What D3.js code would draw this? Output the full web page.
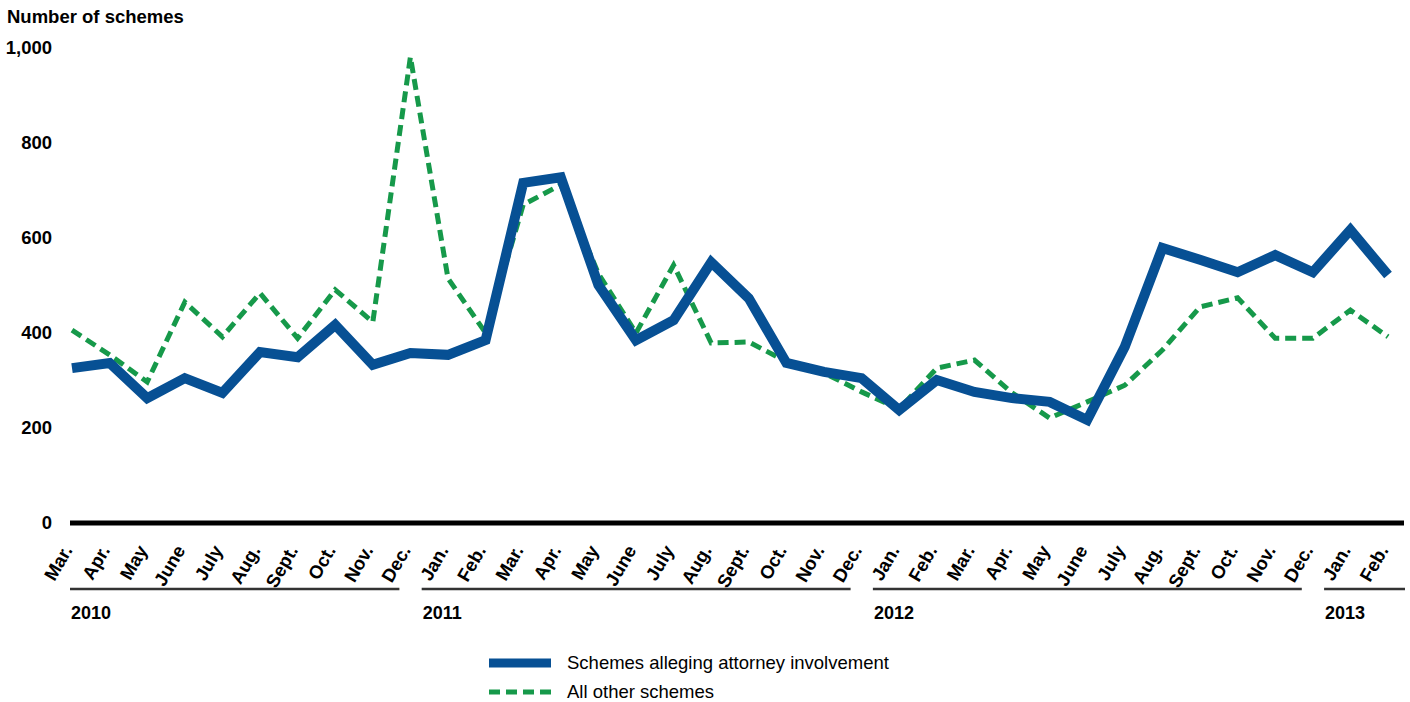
<!DOCTYPE html>
<html>
<head>
<meta charset="utf-8">
<script src="https://cdn.jsdelivr.net/npm/d3@7"></script>
<style>
  body { margin: 0; background: #fff; }
  svg text { font-family: "Liberation Sans", Arial, sans-serif; fill: #000; }
</style>
</head>
<body>
<svg id="chart" width="1410" height="702"></svg>
<script>
'use strict';

// months from Mar. 2010 to Feb. 2013
const months = [
  'Mar.', 'Apr.', 'May', 'June', 'July', 'Aug.', 'Sept.', 'Oct.', 'Nov.', 'Dec.',
  'Jan.', 'Feb.', 'Mar.', 'Apr.', 'May', 'June', 'July', 'Aug.', 'Sept.', 'Oct.', 'Nov.', 'Dec.',
  'Jan.', 'Feb.', 'Mar.', 'Apr.', 'May', 'June', 'July', 'Aug.', 'Sept.', 'Oct.', 'Nov.', 'Dec.',
  'Jan.', 'Feb.',
];
const years = [
  { label: '2010', first: 0, last: 9 },
  { label: '2011', first: 10, last: 21 },
  { label: '2012', first: 22, last: 33 },
  { label: '2013', first: 34, last: 35 },
];
const attorneySchemes = [
  326, 337, 263, 305, 274, 360, 349, 417, 333, 358,
  354, 385, 716, 728, 501, 385, 427, 549, 473, 337, 318, 305,
  238, 301, 276, 263, 255, 217, 371, 579, 554, 528, 564, 528,
  617, 522,
];
const otherSchemes = [
  406, 354, 297, 465, 392, 484, 389, 491, 423, 981,
  515, 400, 670, 712, 525, 400, 543, 379, 381, 340, 316, 276,
  240, 326, 343, 274, 221, 255, 290, 364, 455, 474, 389, 389,
  448, 392,
];
const yTicks = [0, 200, 400, 600, 800, 1000];

const FONT = '"Liberation Sans", Arial, sans-serif';
const svg = d3.select('#chart');
const idx = d3.range(months.length);

const x = d3.scalePoint()
  .domain(idx)
  .range([72, 1388]);
const y = d3.scaleLinear()
  .domain([0, 1000])
  .range([523, 48]);

// title
svg.append('text')
  .attr('x', 7)
  .attr('y', 23)
  .attr('font-size', 18.5)
  .attr('font-weight', 'bold')
  .text('Number of schemes');

// y axis labels only
const yAxis = d3.axisLeft(y)
  .tickValues(yTicks)
  .tickFormat(d3.format(','))
  .tickSize(0)
  .tickPadding(0);
const yG = svg.append('g')
  .attr('transform', 'translate(52,0)')
  .call(yAxis);
yG.select('.domain').remove();
yG.selectAll('text')
  .attr('font-size', 18.5)
  .attr('font-weight', 'bold')
  .attr('fill', '#000')
  .style('font-family', FONT);

// lines
const lineGen = d3.line()
  .x((d, i) => x(i))
  .y((d) => y(d));

svg.append('path')
  .datum(otherSchemes)
  .attr('d', lineGen)
  .attr('fill', 'none')
  .attr('stroke', '#16994a')
  .attr('stroke-width', 5)
  .attr('stroke-dasharray', '11,6');

svg.append('path')
  .datum(attorneySchemes)
  .attr('d', lineGen)
  .attr('fill', 'none')
  .attr('stroke', '#075094')
  .attr('stroke-width', 10)
  .attr('stroke-linejoin', 'miter');

// baseline
svg.append('line')
  .attr('x1', 70)
  .attr('x2', 1404)
  .attr('y1', y(0))
  .attr('y2', y(0))
  .attr('stroke', '#000')
  .attr('stroke-width', 5);

// month labels
const xAxis = d3.axisBottom(x)
  .tickFormat((i) => months[i])
  .tickSize(0)
  .tickPadding(0);
const xG = svg.append('g')
  .call(xAxis);
xG.select('.domain').remove();
xG.selectAll('.tick')
  .attr('transform', (i) => `translate(${x(i) + 1},550)`);
xG.selectAll('text')
  .attr('y', 0)
  .attr('dy', 0)
  .attr('text-anchor', 'end')
  .attr('transform', 'rotate(-60)')
  .attr('font-size', 18.5)
  .attr('font-weight', 'bold')
  .attr('fill', '#000')
  .style('font-family', FONT);

// year groups
const step = x.step();
years.forEach((yr) => {
  const x0 = yr.first === 0 ? 70 : x(yr.first) - step * 0.7;
  const x1 = yr.last === months.length - 1 ? 1405 : x(yr.last) - 11;
  svg.append('line')
    .attr('x1', x0)
    .attr('x2', x1)
    .attr('y1', 589)
    .attr('y2', 589)
    .attr('stroke', '#333')
    .attr('stroke-width', 2.5);
  svg.append('text')
    .attr('x', x0 + 1)
    .attr('y', 619)
    .attr('font-size', 18)
    .attr('font-weight', 'bold')
    .text(yr.label);
});

// legend
const legend = svg.append('g').attr('transform', 'translate(489,0)');
legend.append('line')
  .attr('x1', 0).attr('x2', 62)
  .attr('y1', 663).attr('y2', 663)
  .attr('stroke', '#075094')
  .attr('stroke-width', 9);
legend.append('text')
  .attr('x', 78).attr('y', 669)
  .attr('font-size', 18.5)
  .text('Schemes alleging attorney involvement');
legend.append('line')
  .attr('x1', 0).attr('x2', 62)
  .attr('y1', 692).attr('y2', 692)
  .attr('stroke', '#16994a')
  .attr('stroke-width', 5)
  .attr('stroke-dasharray', '11,6');
legend.append('text')
  .attr('x', 78).attr('y', 698)
  .attr('font-size', 18.5)
  .text('All other schemes');
</script>
</body>
</html>
